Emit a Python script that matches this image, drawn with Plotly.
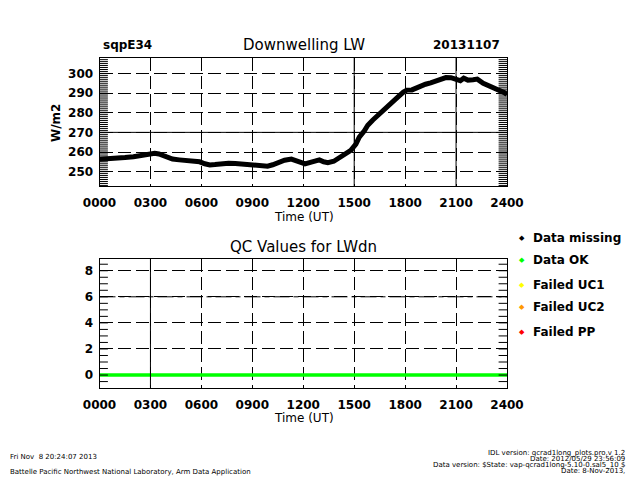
import plotly.graph_objects as go

# Downwelling LW at sqpE34, 2013-11-07 (hour UT, W/m2)
hours = [0.0, 0.5, 1.0, 1.5, 2.0, 2.5, 3.0, 3.25, 3.5, 3.75, 4.0, 4.3, 4.7, 5.1, 5.5,
         5.9, 6.2, 6.5, 6.8, 7.2, 7.6, 8.0, 8.3, 8.6, 9.0, 9.4, 9.9, 10.2, 10.5, 10.9,
         11.3, 11.6, 11.9, 12.1, 12.3, 12.6, 12.95, 13.2, 13.45, 13.8, 14.1, 14.4, 14.8,
         15.1, 15.3, 15.6, 15.8, 16.1, 16.4, 16.7, 17.0, 17.3, 17.6, 17.9, 18.1, 18.4,
         18.6, 18.9, 19.2, 19.5, 19.8, 20.1, 20.4, 20.7, 21.0, 21.25, 21.45, 21.7, 22.0,
         22.25, 22.6, 23.0, 23.3, 23.6, 23.85, 24.0]
lw_dn = [256.3, 256.4, 256.6, 257.2, 257.6, 258.2, 258.9, 259.4, 259.0, 258.2, 257.3,
         256.4, 256.0, 255.8, 255.5, 255.0, 254.0, 253.4, 253.6, 254.0, 254.3, 254.1,
         253.8, 254.1, 253.6, 253.0, 252.8, 253.5, 254.6, 255.8, 256.4, 255.8, 254.6,
         254.0, 254.6, 255.2, 256.0, 255.0, 254.6, 255.3, 256.8, 258.4, 260.8, 264.0,
         267.6, 270.8, 273.6, 276.3, 278.8, 281.5, 283.9, 286.2, 288.2, 290.5, 291.5,
         291.6, 292.4, 293.5, 294.5, 295.2, 296.2, 297.0, 297.9, 297.8, 297.0, 296.3,
         297.6, 296.6, 296.8, 297.1, 295.0, 293.6, 292.5, 291.4, 290.2, 289.2]

# QC values for LWdn (all flags 0 = data OK)
qc_hours = [0, 3, 6, 9, 12, 15, 18, 21, 24]
qc_values = [0, 0, 0, 0, 0, 0, 0, 0, 0]

time_ticks = [0, 3, 6, 9, 12, 15, 18, 21, 24]
time_labels = ["0000", "0300", "0600", "0900", "1200", "1500", "1800", "2100", "2400"]
lw_ticks = [250, 260, 270, 280, 290, 300]
qc_ticks = [0, 2, 4, 6, 8]

legend_names = ["Data missing", "Data OK", "Failed UC1", "Failed UC2", "Failed PP"]
legend_colors = ["black", "#00ff00", "#ffff00", "#ff9900", "#ff0000"]

# the page puts the figure 8px in from the window corner
OFF = 8
W, H = 640 - OFF, 480 - OFF


def fx(px):
    return (px - OFF) / W


def fy(py):
    return 1 - (py - OFF) / H


FONT = "DejaVu Sans"
tick_font = dict(family=FONT, size=12, color="black", weight="bold")
dash = "13px,5px"
lw_range = [242.7, 308]
qc_range = [-0.97, 8.9]

fig = go.Figure()
fig.add_trace(go.Scatter(x=hours, y=lw_dn, mode="lines", line=dict(color="black", width=5),
                         xaxis="x", yaxis="y", showlegend=False))
fig.add_trace(go.Scatter(x=qc_hours, y=qc_values, mode="lines", line=dict(color="#00ff00", width=3.5),
                         xaxis="x2", yaxis="y2", showlegend=False))


# small tick marks along both y edges: half of each 12px dash is clipped away
def edge_ticks(xa, ya, values):
    vals = list(values)
    fig.add_trace(go.Scatter(x=[0] * len(vals) + [24] * len(vals), y=vals + vals, mode="markers",
                             marker=dict(symbol="line-ew", size=12, color="black",
                                         line=dict(width=1, color="black")),
                             xaxis=xa, yaxis=ya, cliponaxis=True, showlegend=False,
                             hoverinfo="skip"))


edge_ticks("x", "y", range(243, 308))
edge_ticks("x2", "y2", [k / 2 for k in range(-1, 18)])

xcommon = dict(range=[0, 24], tickvals=time_ticks, ticktext=time_labels, tickfont=tick_font,
               showline=True, mirror=True, linecolor="black", linewidth=1, ticks="",
               showgrid=True, gridcolor="black", gridwidth=1, griddash=dash,
               zeroline=False, ticklabelstandoff=6, automargin=False)
ycommon = dict(tickfont=tick_font, showline=True, mirror=True, linecolor="black", linewidth=1,
               tickmode="linear", ticks="",
               showgrid=True, gridcolor="black", gridwidth=1, griddash=dash,
               zeroline=False, ticklabelstandoff=3, automargin=False)

fig.update_layout(
    template="none",
    width=W, height=H, margin=dict(l=0, r=0, t=0, b=0, pad=0, autoexpand=False),
    paper_bgcolor="white", plot_bgcolor="white", showlegend=False,
    xaxis=dict(domain=[fx(99.5), fx(507)], anchor="y", **xcommon),
    yaxis=dict(domain=[fy(186), fy(57.7)], anchor="x", range=lw_range,
               tick0=lw_ticks[0], dtick=lw_ticks[1] - lw_ticks[0], **ycommon),
    xaxis2=dict(domain=[fx(99.5), fx(507)], anchor="y2", **xcommon),
    yaxis2=dict(domain=[fy(387.7), fy(259)], anchor="x2", range=qc_range,
                tick0=qc_ticks[0], dtick=qc_ticks[1] - qc_ticks[0], **ycommon),
)

# grid lines drawn solid / dash-dot in the original
solid = dict(color="black", width=1)
for xv in [15, 21]:
    fig.add_shape(type="line", xref="x", yref="y domain", x0=xv, x1=xv, y0=0, y1=1, line=solid)
fig.add_shape(type="line", xref="x domain", yref="y", x0=0, x1=1, y0=270, y1=270, line=solid)
fig.add_shape(type="line", xref="x2", yref="y2 domain", x0=3, x1=3, y0=0, y1=1, line=solid)
fig.add_shape(type="line", xref="x2 domain", yref="y2", x0=0, x1=1, y0=6, y1=6,
              line=dict(color="black", width=1, dash="16px,4px,5px,4px"))


def text(x, y, s, size=12, anchor="left", weight="normal", angle=0, color="black"):
    fig.add_annotation(x=fx(x), y=fy(y), xref="paper", yref="paper", text=s, showarrow=False,
                       xanchor=anchor, yanchor="middle", textangle=angle,
                       font=dict(family=FONT, size=size, color=color, weight=weight))


# titles
text(101, 45, "sqpE34", 12, weight="bold")
text(303.5, 45, "Downwelling LW", 15, anchor="center")
text(502, 45, "20131107", 12, anchor="right", weight="bold")
text(303.5, 247, "QC Values for LWdn", 15, anchor="center")
text(303.5, 217, "Time (UT)", 12, anchor="center")
text(303.5, 418, "Time (UT)", 12, anchor="center")
text(56, 123, "W/m2", 12, anchor="center", weight="bold", angle=-90)

# legend
leg_y = [237.5, 260, 284.5, 307, 331.5]
for name, col, yy in zip(legend_names, legend_colors, leg_y):
    text(521.5, yy, "◆", 7, anchor="center", color=col)
    text(531, yy, name, 12, weight="bold")

# footer
text(8, 456.5, "Fri Nov  8 20:24:07 2013", 7)
text(8, 472, "Battelle Pacific Northwest National Laboratory, Arm Data Application", 7)
text(627, 453, "IDL version: qcrad1long_plots.pro,v 1.2", 7, anchor="right")
text(627, 459, "Date: 2012/05/29 23:56:09", 7, anchor="right")
text(627, 465, "Data version: $State: vap-qcrad1long-5.10-0.sal5_10 $", 7, anchor="right")
text(627, 471, "Date: 8-Nov-2013,", 7, anchor="right")

fig.write_html("out.html")
